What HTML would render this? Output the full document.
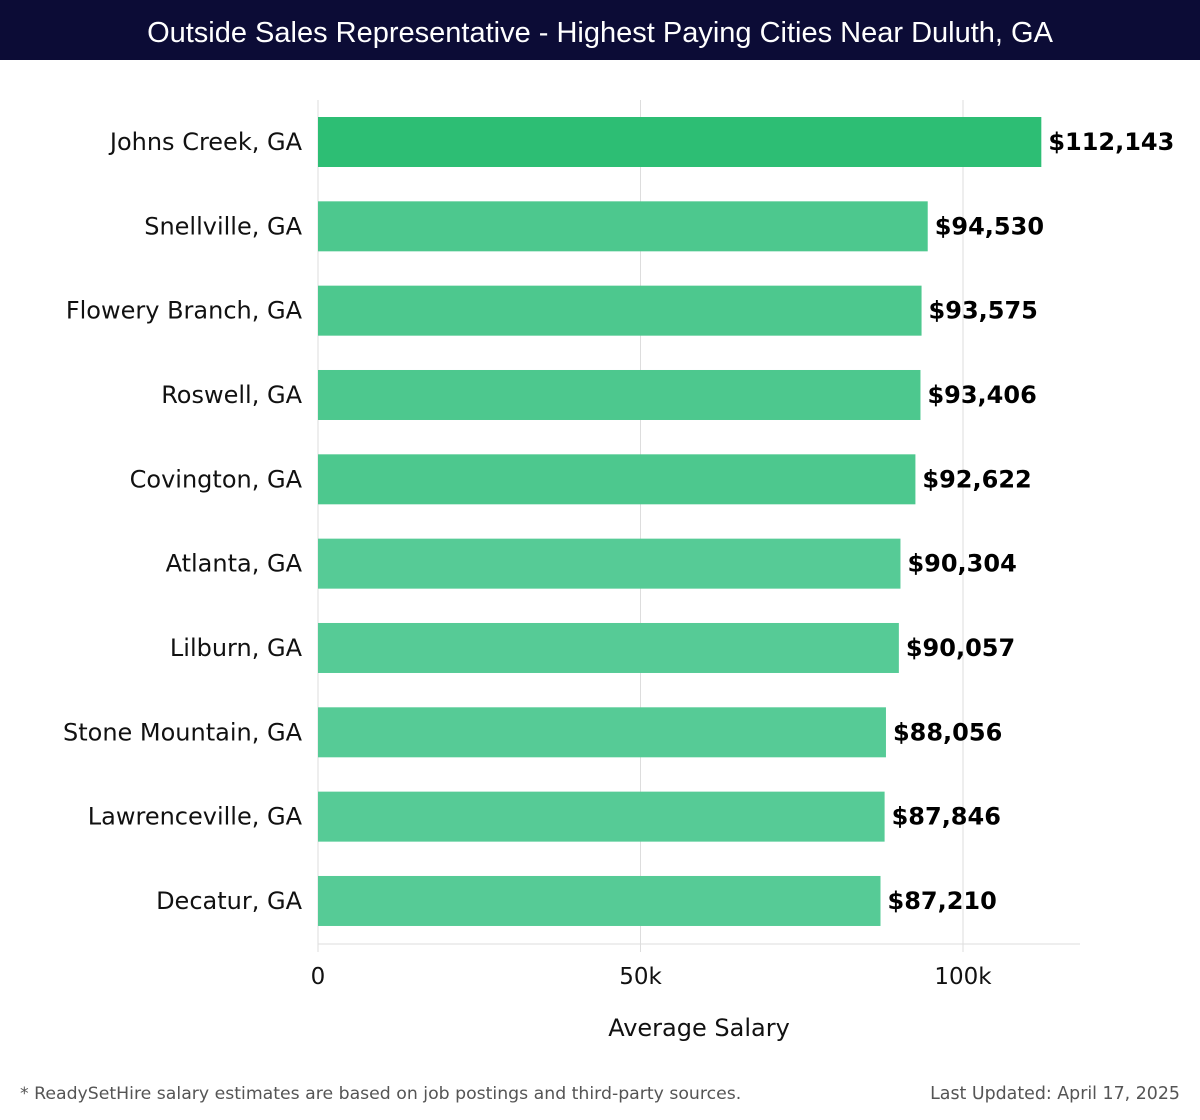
<!DOCTYPE html>
<html><head><meta charset="utf-8"><style>
body{margin:0;width:1200px;height:1120px;background:#fff;font-family:"Liberation Sans","DejaVu Sans",sans-serif;overflow:hidden}
#title{position:absolute;left:0;top:0;width:1200px;height:60px;background:#0c0c36;color:#fff;font-size:29px;line-height:66px;text-align:center}
</style></head><body>
<div id="title">Outside Sales Representative - Highest Paying Cities Near Duluth, GA</div>
<svg id="chart" width="1200" height="1120" style="position:absolute;left:0;top:0" font-family="DejaVu Sans, Liberation Sans, sans-serif"></svg>
<script>
const categories=["Johns Creek, GA","Snellville, GA","Flowery Branch, GA","Roswell, GA","Covington, GA","Atlanta, GA","Lilburn, GA","Stone Mountain, GA","Lawrenceville, GA","Decatur, GA"];
const values=[112143,94530,93575,93406,92622,90304,90057,88056,87846,87210];
const tickValues=[0,50000,100000];
const tickLabels=["0","50k","100k"];
const svg=document.getElementById('chart');
const NS='http://www.w3.org/2000/svg';
const x=v=>318+v*645/100000;
const yc=i=>142+i*84.33;
function mk(t,a,p){const e=document.createElementNS(NS,t);for(const k in a)e.setAttribute(k,a[k]);(p||svg).appendChild(e);return e;}
tickValues.forEach((v,i)=>{
 const g=mk('line',{x1:x(v),x2:x(v),y1:100,y2:952,stroke:'#dddddd','stroke-width':1});
 
 
 const t=mk('text',{x:x(v),y:984,'text-anchor':'middle','font-size':23,fill:'#111'});
 t.textContent=tickLabels[i];
 
 
});
const ax=mk('line',{x1:318,x2:1080,y1:944,y2:944,stroke:'#dddddd'});


const ay=mk('line',{x1:318,x2:318,y1:100,y2:952,stroke:'#dddddd'});


categories.forEach((c,i)=>{
 const col=i===0?'#2dbe74':(i<5?'#4dc88e':'#56cb96');
 const r=mk('rect',{x:318,y:yc(i)-25,width:x(values[i])-318,height:50,fill:col});
 
 
 const l=mk('text',{x:302,y:yc(i)+8,'text-anchor':'end','font-size':24,fill:'#111'});
 l.textContent=c;
 
 
 const v=mk('text',{x:x(values[i])+7,y:yc(i)+8,'font-size':24,'font-weight':'bold',fill:'#000'});
 v.textContent='$'+values[i].toLocaleString('en-US');
 
 
});
const xt=mk('text',{x:699,y:1036,'text-anchor':'middle','font-size':24,fill:'#111'});
xt.textContent='Average Salary';


const f1=mk('text',{x:20,y:1099,'font-size':17.3,fill:'#555'});
f1.textContent='* ReadySetHire salary estimates are based on job postings and third-party sources.';


const f2=mk('text',{x:1180,y:1099,'text-anchor':'end','font-size':17.4,fill:'#555'});
f2.textContent='Last Updated: April 17, 2025';


</script>
</body></html>
